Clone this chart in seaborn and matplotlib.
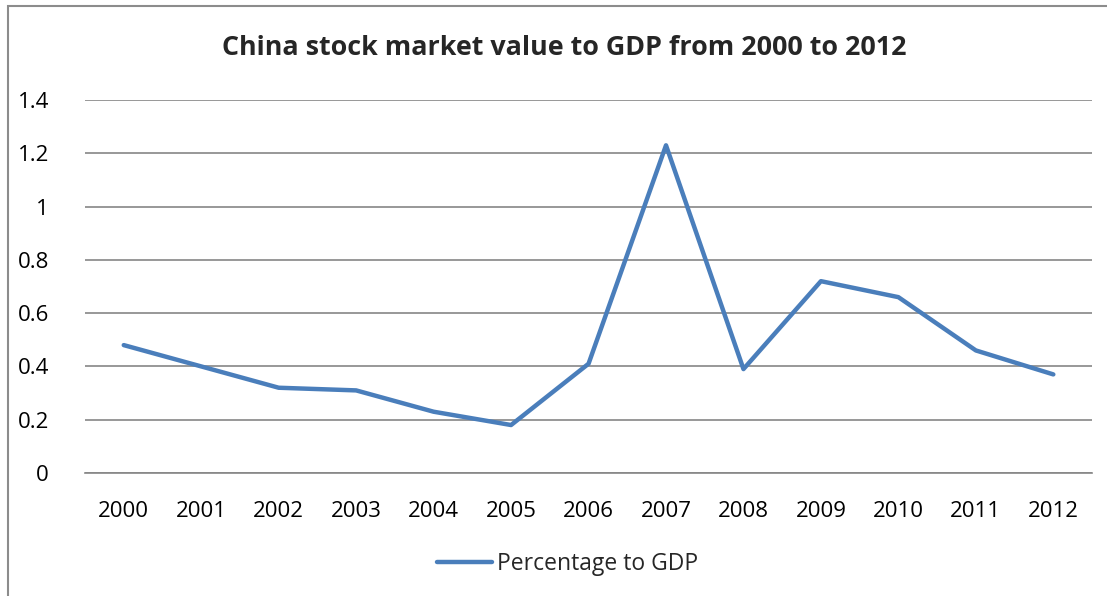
import pandas as pd
import seaborn as sns
import matplotlib.pyplot as plt
from matplotlib.patches import Rectangle

# =========================
# DATOS
# =========================
years = ["2000", "2001", "2002", "2003", "2004", "2005", "2006",
         "2007", "2008", "2009", "2010", "2011", "2012"]
pct_gdp = [0.48, 0.40, 0.32, 0.31, 0.23, 0.18, 0.41,
           1.23, 0.39, 0.72, 0.66, 0.46, 0.37]
y_ticks = [0, 0.2, 0.4, 0.6, 0.8, 1, 1.2, 1.4]
y_tick_labels = ["0", "0.2", "0.4", "0.6", "0.8", "1", "1.2", "1.4"]

TITLE = "China stock market value to GDP from 2000 to 2012"
SERIES = "Percentage to GDP"
LINE_COLOR = "#4A7EBB"
GRID_COLOR = "#868686"

df = pd.DataFrame({"year": years, "value": pct_gdp})

sns.set_theme(style="white")
plt.rcParams["font.family"] = ["Open Sans", "DejaVu Sans"]

fig = plt.figure(figsize=(11.07, 5.96), dpi=100)
ax = fig.add_axes([0.0768, 0.2064, 0.9097, 0.6258])

sns.lineplot(data=df, x="year", y="value", ax=ax, sort=False,
             color=LINE_COLOR, linewidth=3.2, label=SERIES)

ax.set_ylim(0, 1.4)
ax.set_xlim(-0.5, len(years) - 0.5)
ax.set_yticks(y_ticks)
ax.set_yticklabels(y_tick_labels)
ax.yaxis.grid(True, color=GRID_COLOR, linewidth=1.2)
ax.set_axisbelow(True)
for side in ["top", "right", "left"]:
    ax.spines[side].set_visible(False)
ax.spines["bottom"].set_color(GRID_COLOR)
ax.spines["bottom"].set_linewidth(1.2)
ax.tick_params(axis="both", length=0, labelsize=16, colors="black")
ax.tick_params(axis="x", pad=20)
ax.tick_params(axis="y", pad=26)
ax.set_xlabel("")
ax.set_ylabel("")

fig.text(0.51, 0.919, TITLE, ha="center", va="center",
         fontsize=19.4, fontweight="bold")

leg = ax.legend(loc="center", bbox_to_anchor=(0.479, -0.245), frameon=False,
                fontsize=16.5, handlelength=2.4, handletextpad=0.2)

# marco gris del area del grafico
fig.patches.append(Rectangle((8 / 1107, -0.1), 1.2, 1.1 - 6 / 596,
                             transform=fig.transFigure, fill=False,
                             edgecolor="#8c8c8c", linewidth=1.5))

fig.savefig("out.png", dpi=100)
